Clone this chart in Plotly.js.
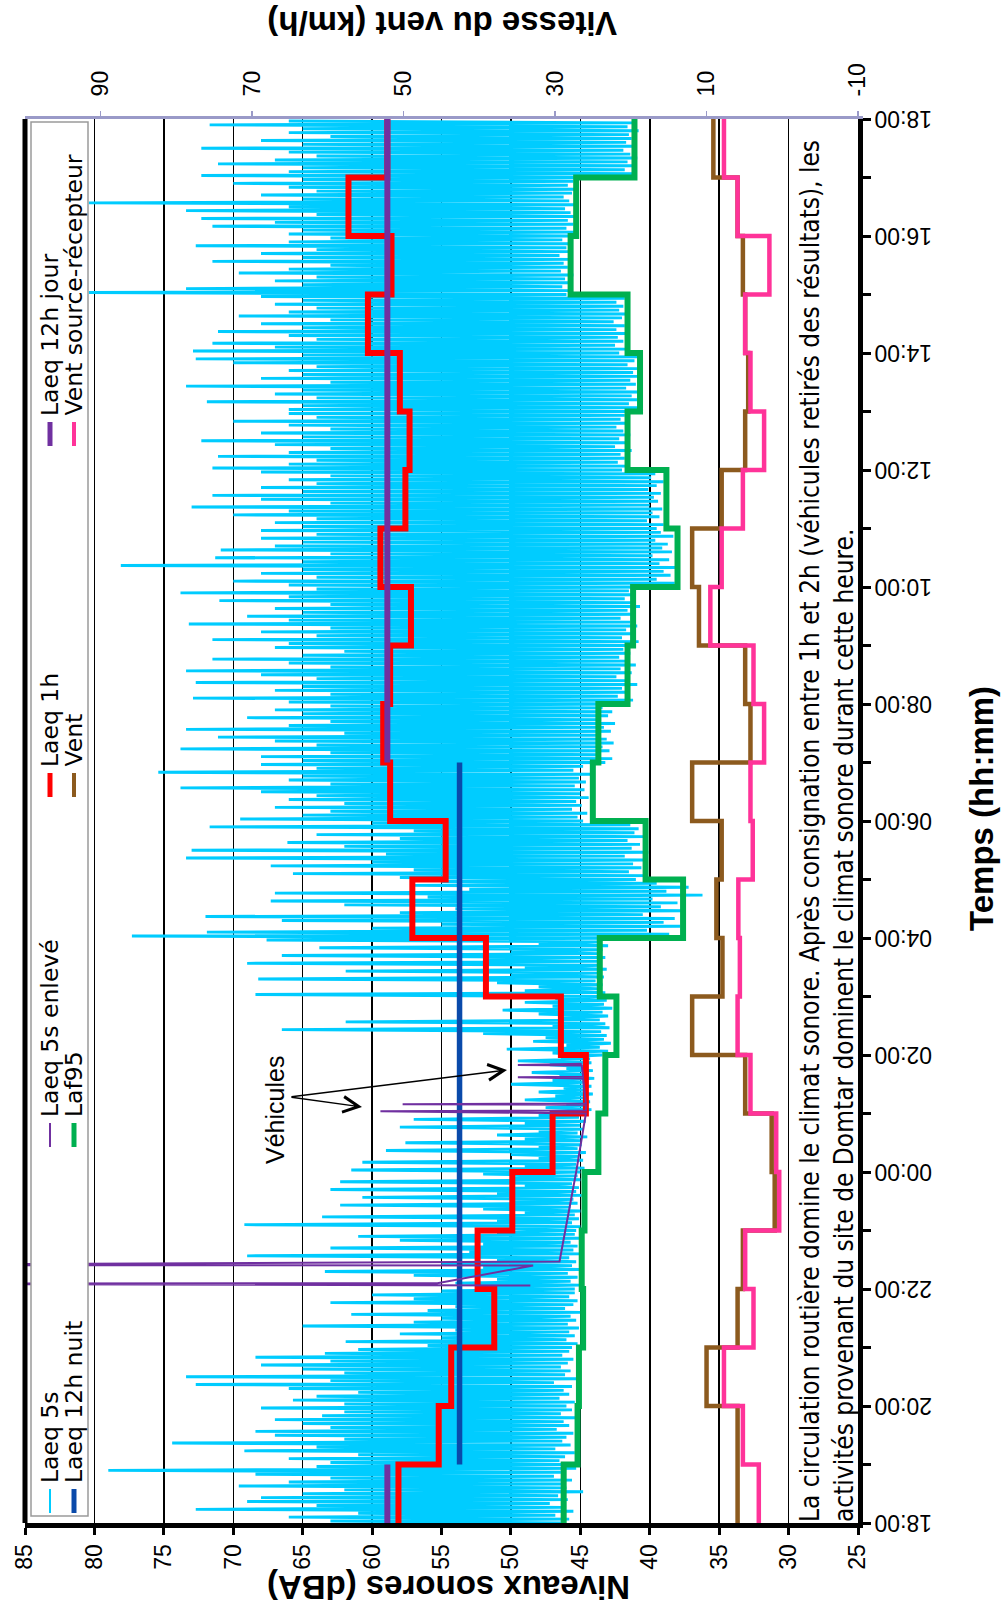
<!DOCTYPE html>
<html>
<head>
<meta charset="utf-8">
<script src="https://cdn.plot.ly/plotly-3.0.1.min.js"></script>
<style>
  html, body { margin: 0; padding: 0; background: #ffffff; }
  #chart { width: 1001px; height: 1619px; }
</style>
</head>
<body>
<div id="chart"></div>
<script>
// ---- Data (time in hours since 18:00) ----
const timeTickHours = [0, 2, 4, 6, 8, 10, 12, 14, 16, 18, 20, 22, 24];
const timeTickLabels = ['18:00', '20:00', '22:00', '00:00', '02:00', '04:00', '06:00',
                        '08:00', '10:00', '12:00', '14:00', '16:00', '18:00'];
const levelTicks = [25, 30, 35, 40, 45, 50, 55, 60, 65, 70, 75, 80, 85];
const windTicks = [-10, 10, 30, 50, 70, 90];

// Laeq 5s, one value every 2 minutes (alternating low / high readings), one row per hour
const laeq5sStepHours = 1 / 30;
const laeq5s = [
  46.4,63, 45.8,66, 46.8,61, 45.5,72.7, 46.3,64, 47.2,69, 45.9,68, 46.6,65, 44.8,62, 46.0,69.6, 46.2,66, 45.6,63, 46.9,68.4, 46.4,79, 45.3,64,
  45.9,63, 46.5,66, 46.1,61, 45.4,69.2, 46.8,64, 45.7,74.4, 46.3,62, 46.0,67, 45.5,68.4, 46.7,63, 45.8,65, 46.2,67, 45.3,63.6, 46.4,62, 45.6,68,
  46.0,62, 45.4,65.7, 46.5,64, 45.8,61, 46.2,66, 45.6,72.7, 46.9,63, 45.3,73.4, 46.1,62, 45.7,65, 46.4,68, 45.9,63, 45.5,68.4, 46.3,63.4, 45.8,61,
  45.6,56, 45.2,61.9, 46.0,55, 45.4,58, 45.8,54, 45.1,65, 45.9,57, 45.3,55, 45.7,61.5, 45.0,56, 46.1,54, 45.5,63, 45.2,57, 45.8,60, 45.4,55,
  45.4,52, 45.0,54, 45.7,51, 45.2,57, 45.9,63.4, 45.1,52, 45.6,55, 45.3,51, 45.8,69, 45.0,53, 45.5,63, 45.2,52, 45.7,58, 45.1,61, 45.4,51,
  45.3,50, 45.0,69.2, 45.6,51, 45.1,63.6, 45.4,49, 45.0,52, 45.7,62.3, 45.2,50, 45.5,60.7, 44.9,51, 45.3,63, 45.1,49, 45.6,62.3, 45.0,50, 45.2,52,
  45.0,61.5, 44.7,49, 45.3,60.7, 44.8,48, 45.1,50, 44.6,59, 45.2,48, 44.9,57.6, 45.0,49, 44.5,51, 45.2,48, 44.8,58, 45.0,49, 44.6,57, 45.1,48,
  44.6,46.5, 44.2,47.5, 44.8,46, 44.3,49, 44.7,46.8, 44.1,48, 44.5,46.2, 44.2,50, 44.6,47, 44.0,46.5, 44.4,48.5, 44.1,46, 44.5,47.2, 44.2,49.5, 44.3,46.4,
  43.4,47, 43.0,50.3, 43.6,46, 42.8,48.4, 43.3,47.5, 43.1,52, 43.5,66.5, 42.9,47, 43.2,61.9, 43.6,46.5, 43.0,48, 43.4,50.6, 42.7,47, 43.3,49, 43.1,46.8,
  43.6,68.4, 43.2,49, 43.8,48, 43.4,51, 43.9,68.2, 43.3,50, 43.7,61.9, 43.1,49, 43.5,69, 43.8,52, 43.2,66.5, 43.6,50, 43.4,63.8, 43.0,48, 43.5,67.6,
  39.5,77.3, 38.6,71.9, 40.2,60, 37.8,55, 39.0,66.5, 38.2,72, 40.5,58, 37.5,54, 39.2,62, 38.0,67.3, 39.8,56, 36.2,67, 38.8,53, 37.2,57, 39.5,55,
  41.0,58, 40.2,65.7, 41.5,57, 40.6,67.3, 41.2,60, 40.4,73.4, 41.8,59, 40.1,73, 41.3,62, 40.7,66.1, 41.6,58, 40.3,64, 41.1,57, 40.8,71.7, 41.4,60,
  44.8,69.5, 45.2,65, 44.5,63, 45.6,67, 44.9,62, 45.3,66, 44.4,64, 45.0,68, 44.7,73.8, 45.4,63, 44.6,66, 45.1,65, 44.3,75.4, 45.5,64, 44.8,68,
  43.2,65, 42.7,68, 43.6,63, 42.9,73.8, 43.4,64, 42.6,67, 43.1,71.1, 43.8,62, 42.8,73.4, 43.3,66, 42.5,63, 43.5,69, 43.0,65, 42.7,67, 43.4,63,
  41.8,66, 41.2,72.9, 42.3,63, 41.5,67, 42.0,65, 40.9,72.7, 41.7,64, 42.4,68, 41.3,73.4, 42.1,63, 41.0,66, 41.6,71.5, 42.2,65, 41.4,62, 41.9,67,
  41.5,66, 40.8,71.5, 42.0,64, 41.2,68, 41.7,63, 40.9,73.2, 41.4,66, 42.1,69, 41.0,65, 41.6,67, 40.7,63, 41.3,71, 41.8,66, 41.1,73.8, 41.5,64,
  38.8,66, 38.2,70, 39.5,64, 38.5,68, 39.0,65, 38.0,78.1, 39.3,65, 38.6,71.3, 39.8,63, 38.4,70.9, 39.1,67, 38.7,65, 39.6,68, 38.3,64, 39.2,68,
  39.5,65, 39.0,67, 40.2,64, 39.3,70, 39.8,66, 39.1,73, 40.0,63, 39.4,68, 39.7,71.5, 39.2,65, 40.1,68, 39.5,64, 39.0,66, 39.9,63, 39.6,68,
  42.0,71.5, 41.5,66, 42.3,64, 41.8,71.1, 42.1,66, 41.3,63, 42.5,67, 41.7,72.3, 42.2,65, 41.4,68, 41.9,63, 42.4,66, 41.6,70, 42.1,64, 41.8,66,
  41.2,66, 40.8,65, 41.5,71.9, 40.9,64, 41.3,67, 40.6,65, 41.7,73.4, 41.0,63, 41.4,68, 40.7,65, 41.2,66, 40.9,64, 41.6,70, 41.1,72.7, 40.8,65,
  42.2,72.9, 41.7,67, 42.5,71.5, 41.9,64, 42.3,66, 41.6,71.1, 42.4,65, 41.8,68, 42.6,63, 42.0,69.6, 41.5,66, 42.2,64, 41.9,67, 42.4,65, 41.8,68,
  46.0,80.4, 45.6,73.4, 46.3,65, 45.8,67, 46.1,64, 45.5,69.6, 46.4,66, 45.9,63, 46.2,71.5, 45.7,65, 46.5,68, 45.8,64, 46.0,72.7, 45.6,66, 46.3,63,
  45.8,66, 45.3,65, 46.0,71.5, 45.5,67, 45.9,72.3, 45.2,64, 45.7,73.4, 46.1,66, 45.4,80.4, 45.8,65, 46.2,68, 45.6,64, 45.3,66, 45.9,70, 45.5,65,
  41.5,72.3, 41.0,66, 41.8,65, 41.2,71.1, 41.6,67, 40.9,64, 41.4,66, 41.9,72.3, 41.1,65, 41.7,68, 41.3,63, 41.5,66, 40.8,65, 41.6,71.7, 41.2,66
];

// Laeq 5s readings removed between 22h and 2h (vehicles)
const enleveHours  = [4.06, 4.09, 4.10, 4.40, 4.41, 4.47, 6.0, 7.0, 7.04, 7.05, 7.15, 7.16, 7.17, 7.60, 7.62, 7.63, 7.82, 7.83, 7.85];
const enleveLevels = [48.6, 100, 55.3, 48.4, 100, 46.5, 45.3, 44.6, 59.4, 44.6, 44.6, 57.8, 44.6, 44.8, 49.5, 44.8, 44.9, 49.5, 44.9];

// Hourly values, 18:00-19:00 first
const laeq1h = [58.1, 55.2, 54.3, 51.2, 52.4, 49.9, 47.0, 44.6, 46.4, 51.8, 57.1, 54.7,
                58.7, 59.2, 58.7, 57.2, 59.4, 57.6, 57.3, 58.0, 60.3, 58.6, 61.7, 58.9];
const laf95 = [46.2, 45.2, 45.1, 44.8, 44.9, 44.7, 43.7, 43.2, 42.4, 43.6, 37.6, 40.3,
               44.1, 43.7, 41.6, 41.2, 38.0, 38.8, 41.6, 40.7, 41.6, 45.7, 45.3, 41.1];
const vent = [5.9, 5.9, 10.0, 5.9, 5.2, 1.0, 1.4, 4.9, 11.9, 7.9, 8.7, 8.0,
              11.9, 4.2, 4.9, 11.0, 11.9, 8.0, 4.9, 4.5, 4.9, 5.2, 5.9, 9.1];
const ventSourceRecepteur = [3.1, 5.2, 7.7, 3.8, 4.9, 0.4, 0.8, 4.2, 5.9, 5.6, 5.8, 3.9,
                             4.2, 2.4, 3.8, 9.5, 8.0, 5.2, 2.4, 4.2, 4.9, 1.7, 5.9, 7.7];

// 12-hour Laeq: day (18h-19h and 7h-18h) and night (19h-7h)
const laeq12hJour = 58.9;
const jourPeriods = [[0, 1], [13, 24]];
const laeq12hNuit = 53.7;
const nuitPeriod = [1, 13];

// ---- Colours ----
const C = {
  laeq5s: '#00CCFF', enleve: '#7030A0', laeq1h: '#FF0000', jour: '#7030A0',
  nuit: '#0A4AAA', laf95: '#00B050', vent: '#8C5A1E', ventSR: '#FF3399'
};

// ---- Page geometry ----
const M = { l: 25, r: 143, t: 119, b: 96 };
const PW = 1001 - M.l - M.r;
const PH = 1619 - M.t - M.b;
const px = x => (x - M.l) / PW;
const py = y => (M.t + PH - y) / PH;

// ---- Traces ----
function hourlySteps(values) {
  const y = values.map((v, i) => i).concat([values.length]);
  const x = values.concat([values[values.length - 1]]);
  return { x, y };
}

const traces = [];

traces.push({
  type: 'scatter', mode: 'lines',
  x: laeq5s, y: laeq5s.map((v, i) => i * laeq5sStepHours),
  line: { color: C.laeq5s, width: 2.9 }, xaxis: 'x', yaxis: 'y'
});

const s95 = hourlySteps(laf95);
traces.push({ type: 'scatter', mode: 'lines', x: s95.x, y: s95.y,
  line: { color: C.laf95, width: 6, shape: 'vh' }, xaxis: 'x', yaxis: 'y' });

const sv = hourlySteps(vent);
traces.push({ type: 'scatter', mode: 'lines', x: sv.x, y: sv.y,
  line: { color: C.vent, width: 4.5, shape: 'vh' }, xaxis: 'x2', yaxis: 'y' });

const ssr = hourlySteps(ventSourceRecepteur);
traces.push({ type: 'scatter', mode: 'lines', x: ssr.x, y: ssr.y,
  line: { color: C.ventSR, width: 4.5, shape: 'vh' }, xaxis: 'x2', yaxis: 'y' });

const s1h = hourlySteps(laeq1h);
traces.push({ type: 'scatter', mode: 'lines', x: s1h.x, y: s1h.y,
  line: { color: C.laeq1h, width: 6, shape: 'vh' }, xaxis: 'x', yaxis: 'y' });

traces.push({ type: 'scatter', mode: 'lines',
  x: [laeq12hNuit, laeq12hNuit], y: nuitPeriod,
  line: { color: C.nuit, width: 5.5 }, xaxis: 'x', yaxis: 'y' });

const jx = [], jy = [];
jourPeriods.forEach((p, i) => {
  if (i > 0) { jx.push(null); jy.push(null); }
  jx.push(laeq12hJour, laeq12hJour); jy.push(p[0], p[1]);
});
traces.push({ type: 'scatter', mode: 'lines', x: jx, y: jy,
  line: { color: C.jour, width: 6 }, xaxis: 'x', yaxis: 'y' });

traces.push({ type: 'scatter', mode: 'lines', x: enleveLevels, y: enleveHours,
  line: { color: C.enleve, width: 2 }, xaxis: 'x', yaxis: 'y' });

traces.forEach(t => { t.showlegend = false; t.hoverinfo = 'skip'; });

// ---- Legend (drawn rotated with the rest of the chart) ----
const legendItems = [
  { label: 'Laeq 5s',               color: C.laeq5s, width: 2,   col: 0, row: 0 },
  { label: 'Laeq 12h nuit',         color: C.nuit,   width: 5,   col: 1, row: 0 },
  { label: 'Laeq 5s enlevé',        color: C.enleve, width: 2,   col: 0, row: 1 },
  { label: 'Laf95',                 color: C.laf95,  width: 5,   col: 1, row: 1 },
  { label: 'Laeq 1h',               color: C.laeq1h, width: 5,   col: 0, row: 2 },
  { label: 'Vent',                  color: C.vent,   width: 4,   col: 1, row: 2 },
  { label: 'Laeq 12h jour',         color: C.jour,   width: 5,   col: 0, row: 3 },
  { label: 'Vent source-récepteur', color: C.ventSR, width: 4,   col: 1, row: 3 }
];
const legendColX = [50, 74];
const legendRowY = [1516, 1150, 800, 449];

const shapes = [
  // left frame
  { type: 'line', xref: 'paper', yref: 'paper', x0: 0, x1: 0, y0: 0, y1: 1,
    line: { color: '#000', width: 5 }, layer: 'above' },
  // legend box
  { type: 'rect', xref: 'paper', yref: 'paper', x0: px(31), x1: px(88), y0: py(1516), y1: py(122),
    line: { color: '#9a9a9a', width: 1.5 }, fillcolor: '#ffffff', layer: 'above' }
];
const annotations = [];
const legendFont = { family: 'DejaVu Sans, Liberation Sans, Arial, sans-serif', size: 23.5, color: '#000' };
legendItems.forEach(it => {
  const x = legendColX[it.col];
  const yEnd = legendRowY[it.row];
  shapes.push({ type: 'line', xref: 'paper', yref: 'paper', x0: px(x), x1: px(x),
    y0: py(yEnd - 3), y1: py(yEnd - 27), line: { color: it.color, width: it.width }, layer: 'above' });
  annotations.push({ xref: 'paper', yref: 'paper', x: px(x), y: py(yEnd - 31),
    text: it.label, textangle: -90, showarrow: false, xanchor: 'center', yanchor: 'bottom',
    font: legendFont });
});

// Time labels, drawn upside down beside the right-hand axis
const tickFont = { family: 'Liberation Sans, Arial, sans-serif', size: 23, color: '#000' };
timeTickHours.forEach((h, i) => {
  annotations.push({ xref: 'paper', yref: 'y', x: px(903), y: h, text: timeTickLabels[i],
    textangle: 180, showarrow: false, xanchor: 'center', yanchor: 'middle', font: tickFont });
});

// Axis titles
const titleFont = { family: 'Liberation Sans, Arial, sans-serif', size: 33, color: '#000' };
annotations.push({ xref: 'paper', yref: 'paper', x: px(448), y: py(1588), text: '<b>Niveaux sonores (dBA)</b>',
  textangle: 180, showarrow: false, xanchor: 'center', yanchor: 'middle', font: titleFont });
annotations.push({ xref: 'paper', yref: 'paper', x: px(442), y: py(24), text: '<b>Vitesse du vent (km/h)</b>',
  textangle: 180, showarrow: false, xanchor: 'center', yanchor: 'middle', font: titleFont });
annotations.push({ xref: 'paper', yref: 'paper', x: px(981), y: py(809), text: '<b>Temps (hh:mm)</b>',
  textangle: -90, showarrow: false, xanchor: 'center', yanchor: 'middle', font: titleFont });

// Note on the traffic and the Domtar site
annotations.push({ xref: 'paper', yref: 'paper', x: px(827), y: py(1524),
  text: 'La circulation routière domine le climat sonore. Après consignation entre 1h et 2h (véhicules retirés des résultats), les<br>activités provenant du site de Domtar dominent le climat sonore durant cette heure.',
  textangle: -90, showarrow: false, xanchor: 'center', yanchor: 'bottom', align: 'left',
  font: { family: 'Liberation Sans Narrow, DejaVu Sans Condensed, Liberation Sans, sans-serif', size: 26, color: '#000' } });

// Vehicles pointer
annotations.push({ xref: 'paper', yref: 'paper', x: px(275), y: py(1110), text: 'Véhicules',
  textangle: -90, showarrow: false, xanchor: 'center', yanchor: 'middle',
  font: { family: 'Liberation Sans, Arial, sans-serif', size: 25, color: '#000' } });
[[507, 1070], [362, 1107]].forEach(h => {
  annotations.push({ xref: 'paper', yref: 'paper', x: px(h[0]), y: py(h[1]), text: '',
    showarrow: true, axref: 'pixel', ayref: 'pixel', ax: 290 - h[0], ay: 1097 - h[1],
    arrowhead: 5, arrowsize: 2.2, arrowwidth: 1.4, arrowcolor: '#000', standoff: 0 });
});

const layout = {
  width: 1001, height: 1619,
  margin: M,
  paper_bgcolor: '#ffffff', plot_bgcolor: '#ffffff',
  showlegend: false,
  xaxis: {
    range: [85, 25], autorange: false,
    tickmode: 'array', tickvals: levelTicks, ticktext: levelTicks.map(String),
    tickangle: -90, tickfont: tickFont,
    ticks: 'outside', ticklen: 7, tickwidth: 3, tickcolor: '#000',
    showline: true, linecolor: '#000', linewidth: 5,
    showgrid: true, gridcolor: '#000', gridwidth: 1.5, zeroline: false
  },
  xaxis2: {
    overlaying: 'x', side: 'top', anchor: 'y',
    range: [100, -10], autorange: false,
    tickmode: 'array', tickvals: windTicks, ticktext: windTicks.map(String),
    tickangle: -90, tickfont: tickFont, ticklabelstandoff: 10,
    ticks: 'outside', ticklen: 5, tickwidth: 1.5, tickcolor: '#9a9ac8',
    showline: true, linecolor: '#9a9ac8', linewidth: 3,
    showgrid: false, zeroline: false
  },
  yaxis: {
    range: [0, 24], autorange: false, side: 'right',
    tickmode: 'array',
    tickvals: Array.from({ length: 25 }, (v, i) => i),
    showticklabels: false,
    ticks: 'outside', ticklen: 8, tickwidth: 3, tickcolor: '#000',
    showline: true, linecolor: '#000', linewidth: 5,
    showgrid: false, zeroline: false
  },
  shapes: shapes,
  annotations: annotations
};

Plotly.newPlot('chart', traces, layout, { staticPlot: true });
</script>
</body>
</html>
